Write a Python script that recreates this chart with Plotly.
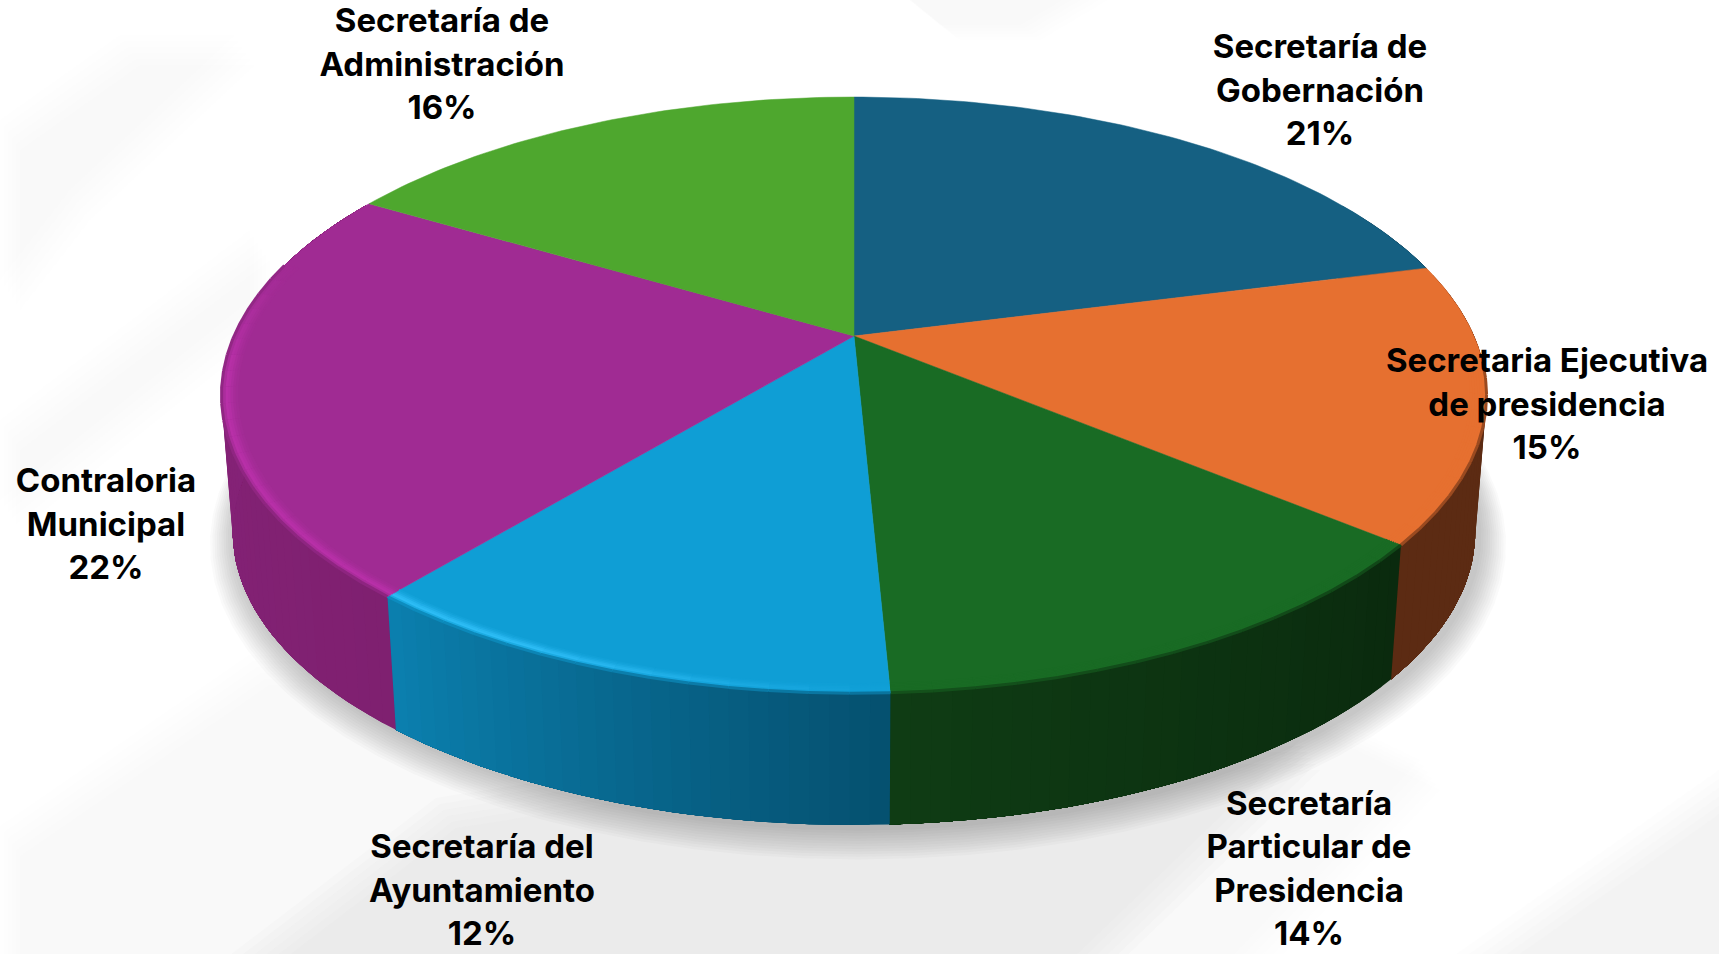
import math
import plotly.graph_objects as go

# ---- data ----
categories = ["Secretaría de Gobernación", "Secretaria Ejecutiva de presidencia",
              "Secretaría Particular de Presidencia", "Secretaría del Ayuntamiento",
              "Contraloria Municipal", "Secretaría de Administración"]
values = [21.0, 15.0, 13.25, 11.75, 22.49, 16.51]
percent_labels = ["21%", "15%", "14%", "12%", "22%", "16%"]
label_names = [["Secretaría de", "Gobernación"], ["Secretaria Ejecutiva", "de presidencia"],
               ["Secretaría", "Particular de", "Presidencia"], ["Secretaría del", "Ayuntamiento"],
               ["Contraloria", "Municipal"], ["Secretaría de", "Administración"]]
top_colors = ["#156082", "#E67030", "#196B24", "#0F9ED5", "#A02B93", "#4EA72E"]

# ---- styling / layout ----
W, H = 1719, 954
CX, CY = 854, 336
K, B, C = 0.1985, 286.4, 620
WALL_SCALE, WALL_DROP = 0.982, 138
wall_right = ["#123f55", "#5c2b13", "#0a2a0e", "#05506f", "#7f2070", "#33701e"]
wall_left = ["#123f55", "#5c2b13", "#0f3c14", "#0b80af", "#88247b", "#33701e"]
rim_left = ["#156082", "#E67030", "#196B24", "#2dbcf5", "#b830a8", "#4EA72E"]
label_anchor = [(1320, 50), (1547, 364), (1309, 806.5), (482, 850), (106, 484), (442, 24)]
LINE_STEP = 43.5


def top_pt(deg, inset=0.0):
    t = math.radians(deg)
    x, v = math.sin(t), -math.cos(t)
    d = 1 - K * v
    return CX + C * x / d * (1 - inset), CY + B * v / d * (1 - inset)


def bot_pt(deg):
    x, y = top_pt(deg)
    return CX + (x - CX) * WALL_SCALE, CY + (y - CY) * WALL_SCALE + WALL_DROP


def hex_rgb(h):
    h = h.lstrip("#")
    return tuple(int(h[i:i + 2], 16) for i in (0, 2, 4))


def to_hex(c):
    return "#%02x%02x%02x" % tuple(round(p) for p in c)


def mix(a, b, f):
    ra, rb = hex_rgb(a), hex_rgb(b)
    return to_hex([p + (q - p) * f for p, q in zip(ra, rb)])


def srange(a, b, step):
    n = max(2, int(abs(b - a) / step) + 1)
    return [a + (b - a) * i / (n - 1) for i in range(n)]


total = sum(values)
edges = [0.0]
for v in values:
    edges.append(edges[-1] + v / total * 360)

fig = go.Figure()


def poly(xs, ys, color, line_w=0.0):
    fig.add_trace(go.Scatter(x=xs, y=ys, mode="lines", fill="toself", fillcolor=color,
                             line=dict(color=color, width=line_w), hoverinfo="skip",
                             showlegend=False))


# soft shadow below the disc
full = srange(0, 360, 4)
for i in range(12, 0, -1):
    grow = i * 2.2
    xs, ys = [], []
    for d in full:
        x, y = bot_pt(d)
        xs.append(CX + (x - CX) * (1 + grow / 610) + 4)
        ys.append(CY + 70 + (y - CY - 70) * (1 + grow / 350) + 3)
    fig.add_trace(go.Scatter(x=xs, y=ys, mode="lines", fill="toself",
                             fillcolor="rgba(70,70,70,0.026)", line=dict(width=0),
                             hoverinfo="skip", showlegend=False))

# outer walls: each shaded band runs to the end of its slice and the next paints over it
for s in range(6):
    lo, hi = max(edges[s], 60), min(edges[s + 1], 300)
    if lo >= hi:
        continue
    steps = srange(lo, hi, 1.5)
    for j in range(len(steps) - 1):
        f = (j + 0.5) / (len(steps) - 1)
        col = mix(wall_right[s], wall_left[s], f)
        tail = steps[j:]
        pts = [top_pt(d) for d in tail] + [bot_pt(d) for d in reversed(tail)]
        pts.append(pts[0])
        poly([q[0] for q in pts], [q[1] for q in pts], col)

# top face
for s in range(6):
    arc = srange(edges[s], edges[s + 1], 1)
    pts = [top_pt(d) for d in arc]
    poly([CX] + [q[0] for q in pts] + [CX], [CY] + [q[1] for q in pts] + [CY], top_colors[s], 0.5)

# bevel along the front rim, graded from the wall edge inwards
bevel_profile = [(0.024, 0.12), (0.020, 0.3), (0.016, 0.55), (0.012, 0.85), (0.008, 1.0), (0.004, 0.45)]
for s in range(1, 5):
    lo, hi = max(edges[s], 95), min(edges[s + 1], 285)
    if lo >= hi:
        continue
    steps = srange(lo, hi, 3)
    for inset, amount in bevel_profile + [(0.0, None)]:
        for j in range(len(steps) - 1):
            d0, d1 = steps[j], steps[j + 1]
            f = (j + 0.5) / (len(steps) - 1)
            wall = mix(wall_right[s], wall_left[s], f)
            strength = min(1.0, f * 1.5) if s != 4 else min(1.0, (1 - f) * 3.0)
            rim = mix(top_colors[s], rim_left[s], strength)
            if amount is None:
                col = mix(top_colors[s], wall, 0.55)
            else:
                col = mix(top_colors[s], rim, amount)
            p0, p1 = top_pt(d0, inset), top_pt(d1, inset)
            fig.add_trace(go.Scatter(x=[p0[0], p1[0]], y=[p0[1], p1[1]], mode="lines",
                                     line=dict(color=col, width=3), hoverinfo="skip",
                                     showlegend=False))

# data labels
tx, ty, tt = [], [], []
for s in range(6):
    ax, ay = label_anchor[s]
    lines = label_names[s] + [percent_labels[s]]
    for i, line in enumerate(lines):
        tx.append(ax)
        ty.append(ay + i * LINE_STEP)
        tt.append(line)
fig.add_trace(go.Scatter(x=tx, y=ty, text=tt, mode="text", textposition="middle center",
                         textfont=dict(family="Inter", size=33, color="#000000", weight="bold"),
                         hoverinfo="skip", showlegend=False))


# background streaks
def soft_shape(points, color, alpha, n=6, dx=4, dy=6):
    out = []
    for i in range(n):
        path = "M " + " L ".join(f"{x + i * dx},{y + i * dy}" for x, y in points) + " Z"
        out.append(dict(type="path", path=path, xref="x", yref="y", layer="below",
                        fillcolor=color, opacity=alpha / n, line=dict(width=0)))
    return out


shapes = []
shapes += soft_shape([(0, 826), (249, 655), (1200, 655), (1420, 760), (1200, 990), (0, 990)], "#e6e6e6", 0.36)
shapes += soft_shape([(1200, 700), (1573, 746), (1413, 929), (1300, 990), (1100, 990)], "#e6e6e6", 0.12)
shapes += soft_shape([(184, 990), (436, 798), (800, 740), (1300, 740), (1040, 990)], "#dadddd", 0.52)
shapes += soft_shape([(1405, 990), (1719, 770), (1740, 990)], "#dfdfdf", 0.4)
shapes += soft_shape([(0, 120), (120, 35), (235, 35), (70, 190), (0, 280)], "#e4e4e4", 0.14)
shapes += soft_shape([(860, -40), (1130, -40), (1020, 25), (940, 25)], "#e2e2e2", 0.14, dy=3)
shapes += soft_shape([(1530, 210), (1740, 110), (1740, 240), (1620, 270)], "#e4e4e4", 0.10)
shapes += soft_shape([(0, 420), (250, 230), (250, 300), (0, 500)], "#eeeeee", 0.2)

fig.update_layout(
    width=W, height=H, margin=dict(l=0, r=0, t=0, b=0),
    paper_bgcolor="#ffffff", plot_bgcolor="#ffffff", showlegend=False, shapes=shapes,
    xaxis=dict(range=[0, W], visible=False, fixedrange=True),
    yaxis=dict(range=[H, 0], visible=False, fixedrange=True),
)
fig.write_html("out.html", config={"displayModeBar": False},
               post_script="document.body.style.margin='0';document.body.style.overflow='hidden';")
